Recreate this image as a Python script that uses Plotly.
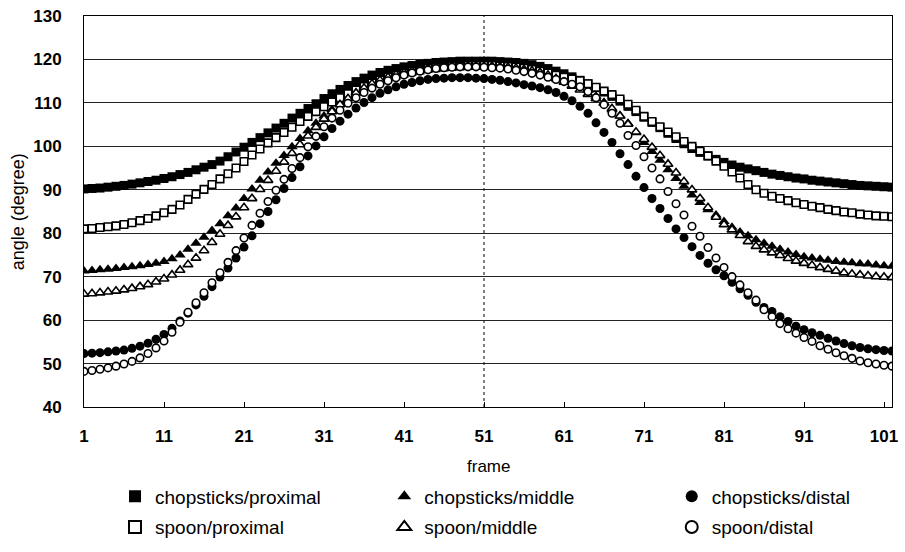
import plotly.graph_objects as go

# ---- data ----
frames = list(range(1, 103))

chopsticks_proximal = [
    90.2, 90.3, 90.4, 90.6, 90.8, 91.0, 91.3, 91.6, 91.9, 92.2,
    92.6, 93.0, 93.5, 94.0, 94.6, 95.2, 95.8, 96.6, 97.6, 98.7,
    99.8, 100.9, 102.0, 103.1, 104.2, 105.3, 106.5, 107.6, 108.7, 109.8,
    111.0, 112.1, 113.1, 114.0, 114.9, 115.7, 116.4, 117.0, 117.5, 117.9,
    118.3, 118.6, 118.9, 119.1, 119.3, 119.4, 119.5, 119.6, 119.6, 119.6,
    119.6, 119.6, 119.5, 119.4, 119.3, 119.1, 118.8, 118.4, 117.9, 117.3,
    116.7, 116.0, 115.2, 114.4, 113.5, 112.5, 111.5, 110.4, 109.2, 108.0,
    106.7, 105.5, 104.3, 103.0, 101.8, 100.6, 99.5, 98.6, 97.8, 97.0,
    96.3, 95.7, 95.2, 94.8, 94.4, 94.0, 93.6, 93.3, 93.0, 92.7,
    92.5, 92.2, 92.0, 91.8, 91.6, 91.4, 91.2, 91.0, 90.9, 90.8,
    90.7, 90.6]

chopsticks_middle = [
    71.3, 71.4, 71.6, 71.7, 71.9, 72.1, 72.3, 72.5, 72.8, 73.1,
    73.5, 74.1, 75.0, 76.3, 77.7, 79.1, 80.6, 82.2, 84.0, 85.8,
    88.0, 90.2, 92.2, 94.1, 96.1, 97.9, 99.9, 101.8, 103.6, 105.3,
    107.0, 108.5, 109.9, 111.2, 112.4, 113.5, 114.5, 115.3, 116.0, 116.6,
    117.1, 117.5, 117.8, 118.1, 118.3, 118.5, 118.6, 118.7, 118.8, 118.8,
    118.8, 118.8, 118.7, 118.6, 118.4, 118.1, 117.7, 117.3, 116.9, 116.4,
    115.8, 115.0, 114.1, 112.9, 111.5, 110.0, 108.4, 107.0, 105.3, 103.1,
    100.9, 98.8, 96.8, 94.6, 92.6, 90.8, 88.8, 87.1, 85.4, 84.2,
    82.7, 81.4, 80.3, 79.4, 78.5, 77.7, 77.0, 76.3, 75.7, 75.1,
    74.6, 74.3, 74.0, 73.8, 73.5, 73.3, 73.2, 73.0, 72.9, 72.7,
    72.5, 72.4]

chopsticks_distal = [
    52.3, 52.4, 52.5, 52.7, 52.9, 53.1, 53.5, 54.0, 54.7, 55.6,
    56.7, 58.1, 59.8, 61.6, 63.5, 65.5, 67.7, 69.9, 72.0, 74.3,
    76.8, 79.4, 82.2, 85.0, 87.7, 90.3, 92.8, 95.3, 97.8, 100.1,
    102.2, 104.1, 105.8, 107.4, 108.8, 110.1, 111.2, 112.2, 113.0, 113.7,
    114.3, 114.7, 115.1, 115.4, 115.6, 115.7, 115.8, 115.8, 115.8, 115.7,
    115.6, 115.4, 115.2, 114.9, 114.6, 114.2, 113.9, 113.5, 113.0, 112.4,
    111.5, 110.5, 109.2, 107.6, 105.4, 103.2, 100.9, 98.3, 95.8, 93.1,
    90.5, 88.0, 85.7, 83.4, 81.0, 79.0, 76.9, 74.9, 73.1, 71.6,
    70.2, 68.7, 67.2, 65.7, 64.1, 62.9, 62.0, 60.8, 59.7, 58.6,
    57.8, 57.1, 56.5, 55.8, 55.2, 54.6, 54.1, 53.7, 53.4, 53.2,
    53.0, 52.9]

spoon_proximal = [
    81.0, 81.1, 81.3, 81.5, 81.7, 82.0, 82.4, 82.9, 83.4, 84.0,
    84.7, 85.5, 86.5, 87.8, 89.0, 90.1, 91.2, 92.5, 93.7, 95.0,
    96.5, 98.0, 99.4, 100.8, 102.0, 103.2, 104.4, 105.7, 106.9, 108.0,
    109.1, 110.2, 111.2, 112.1, 113.0, 113.8, 114.6, 115.3, 115.9, 116.4,
    116.9, 117.3, 117.6, 117.9, 118.1, 118.3, 118.4, 118.5, 118.6, 118.6,
    118.6, 118.6, 118.5, 118.4, 118.3, 118.0, 117.7, 117.3, 116.9, 116.4,
    115.9, 115.5, 115.1, 114.4, 113.6, 112.7, 111.9, 110.9, 109.7, 108.3,
    106.9, 105.7, 104.5, 103.3, 102.2, 101.1, 100.0, 98.9, 97.8, 96.6,
    95.4, 94.1, 92.7, 91.2, 90.0, 89.2, 88.5, 88.0, 87.5, 87.0,
    86.6, 86.2, 85.9, 85.5, 85.2, 84.9, 84.7, 84.4, 84.2, 84.0,
    83.9, 83.8]

spoon_middle = [
    66.0, 66.1, 66.3, 66.5, 66.7, 67.0, 67.3, 67.7, 68.2, 68.8,
    69.5, 70.4, 71.5, 72.8, 74.3, 76.0, 77.9, 79.8, 81.8, 83.8,
    85.9, 88.0, 90.1, 92.2, 94.3, 96.4, 98.4, 100.4, 102.4, 104.4,
    106.3, 108.0, 109.6, 111.0, 112.3, 113.4, 114.4, 115.2, 115.9, 116.5,
    117.0, 117.4, 117.7, 117.9, 118.1, 118.2, 118.3, 118.4, 118.4, 118.4,
    118.4, 118.4, 118.3, 118.2, 118.0, 117.7, 117.4, 117.0, 116.4, 115.6,
    114.8, 113.9, 113.0, 112.0, 111.0, 110.0, 108.7, 107.0, 105.1, 103.3,
    101.6, 99.8, 97.9, 95.9, 93.9, 91.9, 90.0, 88.0, 85.9, 83.7,
    82.0, 80.8, 79.5, 78.1, 77.0, 76.2, 75.5, 74.9, 74.2, 73.6,
    73.1, 72.6, 72.1, 71.7, 71.3, 70.9, 70.6, 70.4, 70.2, 70.0,
    69.9, 69.8]

spoon_distal = [
    48.2, 48.4, 48.7, 49.0, 49.4, 49.9, 50.5, 51.3, 52.3, 53.6,
    55.2, 57.2, 59.5, 61.8, 64.0, 66.3, 68.6, 70.9, 73.3, 76.0,
    78.9, 81.8, 84.6, 87.3, 89.9, 92.4, 94.9, 97.4, 99.9, 102.3,
    104.5, 106.5, 108.3, 109.9, 111.2, 112.4, 113.4, 114.3, 115.1, 115.8,
    116.4, 116.9, 117.3, 117.6, 117.9, 118.1, 118.2, 118.3, 118.3, 118.3,
    118.2, 118.1, 118.0, 117.8, 117.5, 117.2, 116.8, 116.4, 115.9, 115.4,
    114.9, 114.3, 113.7, 112.6, 111.2, 109.6, 107.6, 105.3, 102.5, 100.2,
    97.6, 95.0, 92.5, 89.6, 86.8, 84.2, 81.6, 79.3, 76.7, 74.3,
    72.1, 70.0, 68.1, 66.3, 64.6, 62.4, 60.8, 59.2, 58.0, 57.0,
    56.0, 55.1, 54.1, 53.3, 52.5, 51.8, 51.2, 50.6, 50.2, 49.9,
    49.6, 49.4]

x_tick_frames = [1, 11, 21, 31, 41, 51, 61, 71, 81, 91, 101]
x_tick_labels = [str(v) for v in x_tick_frames]
y_tick_values = [40, 50, 60, 70, 80, 90, 100, 110, 120, 130]
y_tick_labels = [str(v) for v in y_tick_values]
reference_frame = 51

# (name, values, symbol, filled, size, legend column)
series = [
    ("chopsticks/proximal", chopsticks_proximal, "square", True, 9, "legend"),
    ("chopsticks/middle", chopsticks_middle, "triangle-up", True, 10, "legend2"),
    ("chopsticks/distal", chopsticks_distal, "circle", True, 9, "legend3"),
    ("spoon/proximal", spoon_proximal, "square", False, 7.5, "legend"),
    ("spoon/middle", spoon_middle, "triangle-up", False, 8.5, "legend2"),
    ("spoon/distal", spoon_distal, "circle", False, 7.5, "legend3"),
]

FONT = "Liberation Sans, Arial, sans-serif"

fig = go.Figure()
for name, vals, sym, filled, size, leg in series:
    fig.add_trace(go.Scatter(
        x=frames, y=vals, name=name, mode="markers",
        legend=leg, legendgroup=name,
        marker=dict(
            symbol=sym, size=size,
            color="black" if filled else "white",
            line=dict(color="black", width=0 if filled else 1.6),
        ),
    ))

fig.add_shape(type="line", xref="x", yref="paper",
              x0=reference_frame, x1=reference_frame, y0=0, y1=1,
              line=dict(color="black", width=1, dash="dot"), layer="below")


def legend_box(xpos):
    return dict(
        orientation="v", x=xpos, xanchor="left", y=-0.18, yanchor="top",
        font=dict(size=19, family=FONT), bgcolor="rgba(0,0,0,0)",
        itemwidth=30, itemsizing="constant",
        traceorder="grouped", tracegroupgap=3,
    )


fig.update_layout(
    width=905, height=552,
    margin=dict(l=84, r=13, t=16, b=145, autoexpand=False),
    paper_bgcolor="white", plot_bgcolor="white",
    font=dict(family=FONT, color="black"),
    showlegend=True,
    legend=legend_box(0.0384),
    legend2=legend_box(0.3717),
    legend3=legend_box(0.7274),
    annotations=[
        dict(text="frame", xref="paper", yref="paper", x=0.5, y=-0.151,
             xanchor="center", yanchor="middle", showarrow=False,
             font=dict(size=17, family=FONT)),
        dict(text="angle (degree)", xref="paper", yref="paper", x=-0.082, y=0.5,
             xanchor="center", yanchor="middle", showarrow=False, textangle=-90,
             font=dict(size=18, family=FONT)),
    ],
)

fig.update_xaxes(
    range=[1, 102], tickmode="array", tickvals=x_tick_frames, ticktext=x_tick_labels,
    showgrid=False, zeroline=False,
    showline=True, linecolor="black", linewidth=1, mirror=True,
    ticks="inside", ticklen=5, tickcolor="black",
    tickfont=dict(size=17, family=FONT, weight="bold"),
    ticklabelstandoff=14,
)
fig.update_yaxes(
    range=[40, 130], tickmode="array", tickvals=y_tick_values, ticktext=y_tick_labels,
    showgrid=True, gridcolor="#222", gridwidth=1, zeroline=False,
    showline=True, linecolor="black", linewidth=1, mirror=True,
    ticks="", tickfont=dict(size=17, family=FONT, weight="bold"),
    ticklabelstandoff=18,
)

fig.write_html("out.html")
